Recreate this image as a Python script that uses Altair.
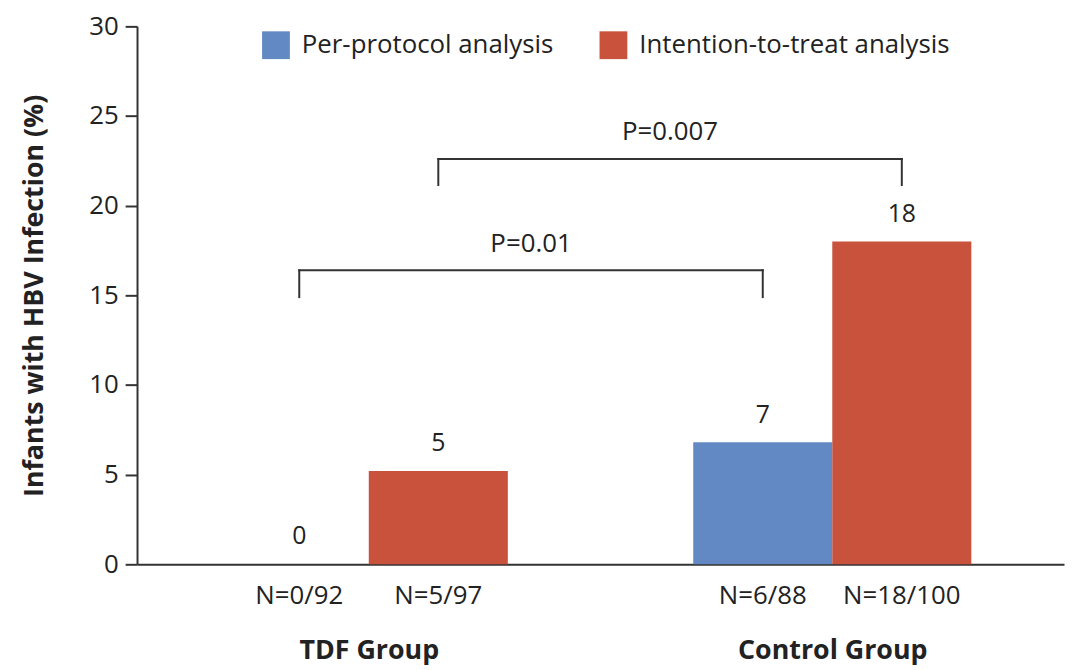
import altair as alt
import pandas as pd

# ---- data ----
groups = ["TDF Group", "Control Group"]
series = ["Per-protocol analysis", "Intention-to-treat analysis"]
bar_group = [0, 0, 1, 1]
bar_series = [0, 1, 0, 1]
bar_values = [0.0, 5.2, 6.8, 18.0]
value_labels = ["0", "5", "7", "18"]
n_labels = ["N=0/92", "N=5/97", "N=6/88", "N=18/100"]

bracket_series = [0, 1]
bracket_top = [16.4, 22.6]
bracket_leg = [14.9, 21.15]
p_labels = ["P=0.01", "P=0.007"]
p_label_y = [17.85, 24.1]

y_ticks = [0, 5, 10, 15, 20, 25, 30]
colors = ["#6389c4", "#c9523c"]

FONT = "Open Sans"
TXT = "#222222"
LINE = "#333333"

bars_df = pd.DataFrame({
    "g": bar_group,
    "s": bar_series,
    "series": [series[i] for i in bar_series],
    "value": bar_values,
    "vlabel": value_labels,
    "nlabel": n_labels,
})
br_df = pd.DataFrame({
    "s": bracket_series,
    "top": bracket_top,
    "leg": bracket_leg,
    "label": p_labels,
    "ly": p_label_y,
})

# layout: each group spans one unit, two adjacent bars of width 0.3 centred in it
base = alt.Chart(bars_df).transform_calculate(
    x0="datum.g + 0.2 + 0.3 * datum.s",
    x1="datum.g + 0.5 + 0.3 * datum.s",
    xc="datum.g + 0.35 + 0.3 * datum.s",
)

xscale = alt.Scale(domain=[0, 2], nice=False, zero=False)
yscale = alt.Scale(domain=[0, 30], nice=False)

label_expr = f"datum.value < 1 ? '{groups[0]}' : '{groups[1]}'"

xaxis = alt.Axis(
    values=[0.5, 1.5], labelExpr=label_expr, ticks=False, grid=False,
    title=None, labelFontSize=27, labelFontWeight="bold", labelColor=TXT,
    labelPadding=74, labelLimit=500, domainColor=LINE, domainWidth=2,
    labelFont=FONT)
yaxis = alt.Axis(
    values=y_ticks, tickSize=12, tickWidth=2, tickColor=LINE,
    domainColor=LINE, domainWidth=2, grid=False,
    labelFontSize=26, labelColor=TXT, labelPadding=7, labelFont=FONT,
    title="Infants with HBV Infection (%)", titleFontSize=27,
    titleFontWeight="bold", titleColor=TXT, titlePadding=40,
    titleFont=FONT)

bars = base.mark_bar().encode(
    x=alt.X("x0:Q", scale=xscale, axis=xaxis),
    x2="x1:Q",
    y=alt.Y("value:Q", scale=yscale, axis=yaxis),
    y2=alt.datum(0),
    color=alt.Color("series:N", scale=alt.Scale(domain=series, range=colors),
                    legend=alt.Legend(
                        orient="none", legendX=126, legendY=5,
                        direction="horizontal", title=None,
                        symbolType="square", symbolSize=784,
                        symbolStrokeWidth=0, labelFontSize=26,
                        labelFont=FONT, labelColor=TXT, labelOffset=12,
                        labelLimit=600, columnPadding=46)),
)

vals = base.mark_text(dy=-28, fontSize=25, font=FONT, color=TXT,
                      baseline="middle").encode(
    x=alt.X("xc:Q", scale=xscale, axis=xaxis),
    y=alt.Y("value:Q", scale=yscale, axis=yaxis),
    text="vlabel:N",
)

ns = base.mark_text(fontSize=26, font=FONT, color=TXT,
                    baseline="middle").encode(
    x=alt.X("xc:Q", scale=xscale, axis=xaxis),
    y=alt.value(574),
    text="nlabel:N",
)

bbase = alt.Chart(br_df).transform_calculate(
    xf="0.35 + 0.3 * datum.s",
    xt="1.35 + 0.3 * datum.s",
    xm="0.85 + 0.3 * datum.s",
)

hseg = bbase.mark_rule(color=LINE, strokeWidth=2, strokeCap="square").encode(
    x=alt.X("xf:Q", scale=xscale, axis=xaxis),
    x2="xt:Q",
    y=alt.Y("top:Q", scale=yscale, axis=yaxis),
)

legs = bbase.transform_fold(["xf", "xt"], as_=["end", "xpos"]).mark_rule(
    color=LINE, strokeWidth=2, strokeCap="square").encode(
    x=alt.X("xpos:Q", scale=xscale, axis=xaxis),
    y=alt.Y("top:Q", scale=yscale, axis=yaxis),
    y2="leg:Q",
)

plabels = bbase.mark_text(fontSize=26, font=FONT, color=TXT,
                          baseline="middle").encode(
    x=alt.X("xm:Q", scale=xscale, axis=xaxis),
    y=alt.Y("ly:Q", scale=yscale, axis=yaxis),
    text="label:N",
)

chart = alt.layer(bars, vals, ns, hseg, legs, plabels).properties(
    width=934, height=542,
    autosize=alt.AutoSizeParams(type="none"),
    padding={"left": 130, "top": 16, "right": 4, "bottom": 104},
).configure(font=FONT).configure_view(stroke=None)

chart.save("out.html", embed_options={"renderer": "svg", "actions": False})
